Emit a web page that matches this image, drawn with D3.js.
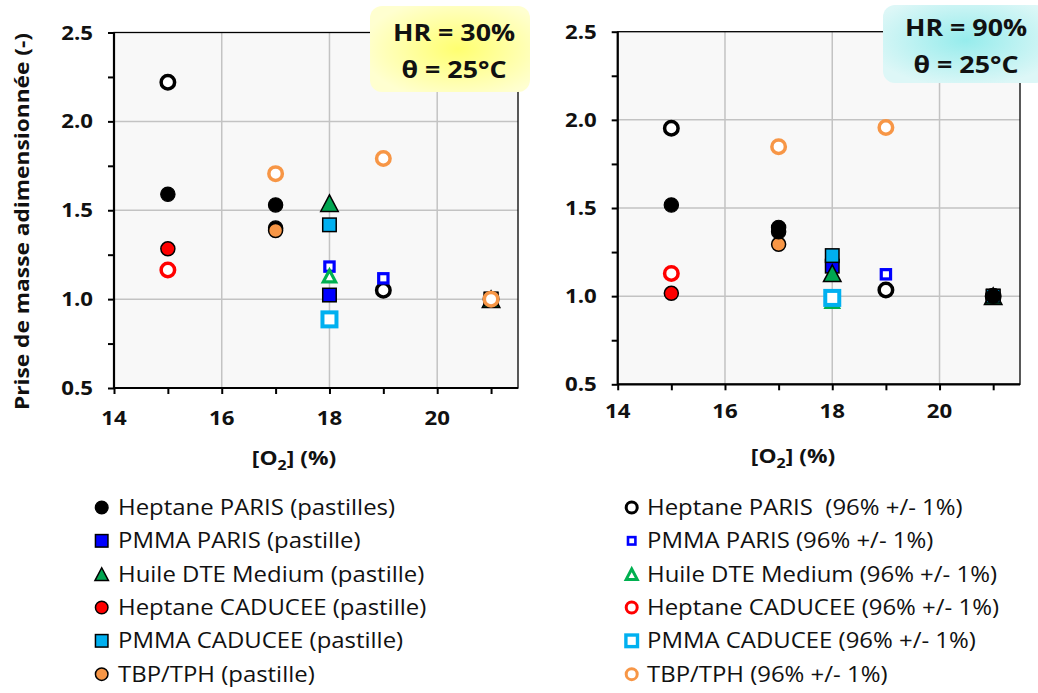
<!DOCTYPE html>
<html><head><meta charset="utf-8">
<script src="https://cdn.jsdelivr.net/npm/d3@7"></script>
<style>
html,body{margin:0;padding:0;background:#fff;}
svg{display:block;font-family:"Open Sans", Lato, sans-serif;}
</style></head>
<body>
<svg id="chart" width="1038" height="693"></svg>
<script>
// ---------- DATA ----------
const xTickValues = [14, 16, 18, 20];
const xMinorTicks = [15, 17, 19, 21];
const yTickValues = [0.5, 1.0, 1.5, 2.0, 2.5];
const yMinorTicks = [0.75, 1.25, 1.75, 2.25];
const xDomain = [14, 21.5];
const yDomain = [0.5, 2.5];

const seriesNames = [
  "Heptane PARIS (pastilles)", "PMMA PARIS (pastille)", "Huile DTE Medium (pastille)",
  "Heptane CADUCEE (pastille)", "PMMA CADUCEE (pastille)", "TBP/TPH (pastille)",
  "Heptane PARIS  (96% +/- 1%)", "PMMA PARIS (96% +/- 1%)", "Huile DTE Medium (96% +/- 1%)",
  "Heptane CADUCEE (96% +/- 1%)", "PMMA CADUCEE (96% +/- 1%)", "TBP/TPH (96% +/- 1%)"
];
const seriesKeys = ["hpF","ppF","huF","hcF","pcF","tbF","hpO","ppO","huO","hcO","pcO","tbO"];

// HR = 30 %
const hr30_hpF = [[15,1.59],[17,1.53],[17,1.40],[21,1.0]];
const hr30_ppF = [[18,1.023],[21,1.0]];
const hr30_huF = [[18,1.54],[21,1.0]];
const hr30_hcF = [[15,1.283]];
const hr30_pcF = [[18,1.418],[21,1.0]];
const hr30_tbF = [[17,1.386]];
const hr30_hpO = [[15,2.22],[19,1.05],[21,1.0]];
const hr30_ppO = [[18,1.183],[19,1.117],[21,1.0]];
const hr30_huO = [[18,1.13]];
const hr30_hcO = [[15,1.164]];
const hr30_pcO = [[18,0.886]];
const hr30_tbO = [[17,1.706],[19,1.791],[21,1.0]];

// HR = 90 %
const hr90_hpF = [[15,1.517],[17,1.39],[17,1.365],[21,1.0]];
const hr90_ppF = [[18,1.17],[21,1.0]];
const hr90_huF = [[18,1.13],[21,1.0]];
const hr90_hcF = [[15,1.016]];
const hr90_pcF = [[18,1.23],[21,1.0]];
const hr90_tbF = [[17,1.294]];
const hr90_hpO = [[15,1.952],[19,1.035],[21,1.0]];
const hr90_ppO = [[19,1.124],[21,1.0]];
const hr90_huO = [[18,0.97]];
const hr90_hcO = [[15,1.129]];
const hr90_pcO = [[18,0.99]];
const hr90_tbO = [[17,1.848],[19,1.957]];

const panelLabels = [["HR = 30%","θ = 25°C"],["HR = 90%","θ = 25°C"]];

// ---------- STYLES ----------
const SX = 1.14; // horizontal glyph stretch to match the reference typeface proportions
const styles = {
  hpF:{shape:"circle",size:15.5,fill:"#000000",stroke:"#000000",sw:1.2, lsize:14},
  ppF:{shape:"square",size:15,fill:"#0000FF",stroke:"#000000",sw:1.5, lsize:14},
  huF:{shape:"triangle",size:19,fill:"#00A651",stroke:"#000000",sw:1.5, lsize:15},
  hcF:{shape:"circle",size:15.5,fill:"#FF0000",stroke:"#000000",sw:1.5, lsize:14},
  pcF:{shape:"square",size:15,fill:"#00B0F0",stroke:"#000000",sw:1.5, lsize:14},
  tbF:{shape:"circle",size:15.5,fill:"#F79646",stroke:"#000000",sw:1.5, lsize:14},
  hpO:{shape:"circle",size:17,fill:"#FFFFFF",stroke:"#000000",sw:3.5, lsize:14, lsw:3},
  ppO:{shape:"square",size:12.5,fill:"#FFFFFF",stroke:"#0000FF",sw:3.2, lsize:10, lsw:2.6},
  huO:{shape:"triangle",size:15.5,fill:"#FFFFFF",stroke:"#00B050",sw:3.2, lsize:14, lsw:3},
  hcO:{shape:"circle",size:17,fill:"#FFFFFF",stroke:"#FF0000",sw:3.5, lsize:14, lsw:3},
  pcO:{shape:"square",size:18,fill:"#FFFFFF",stroke:"#00B0F0",sw:4, lsize:15, lsw:3.4},
  tbO:{shape:"circle",size:17,fill:"#FFFFFF",stroke:"#F79646",sw:3.5, lsize:14, lsw:3}
};

const panels = [
  { box:{x0:114, x1:518, y0:32.5, y1:388}, xlabBase:37, titleY:465, titleX:294,
    badge:{x:370,y:6,w:160,h:86,c0:"#FFFF70",c1:"#FFFFD0",cx:0.55,cy:0.5, tx:454, b1:41, b2:78},
    data:{hpF:hr30_hpF,ppF:hr30_ppF,huF:hr30_huF,hcF:hr30_hcF,pcF:hr30_pcF,tbF:hr30_tbF,
          hpO:hr30_hpO,ppO:hr30_ppO,huO:hr30_huO,hcO:hr30_hcO,pcO:hr30_pcO,tbO:hr30_tbO},
    order:["hpF","hpO","ppF","ppO","huO","huF","hcF","hcO","pcF","pcO","tbF","tbO"],
    labels:panelLabels[0] },
  { box:{x0:617.7, x1:1020, y0:31.7, y1:384.3}, xlabBase:34, titleY:463, titleX:793,
    badge:{x:883,y:5,w:165,h:78,c0:"#96ECEC",c1:"#DDF7F7",cx:0.5,cy:0.45, tx:966, b1:36, b2:72.5},
    data:{hpF:hr90_hpF,ppF:hr90_ppF,huF:hr90_huF,hcF:hr90_hcF,pcF:hr90_pcF,tbF:hr90_tbF,
          hpO:hr90_hpO,ppO:hr90_ppO,huO:hr90_huO,hcO:hr90_hcO,pcO:hr90_pcO,tbO:hr90_tbO},
    order:["hpO","ppF","ppO","huO","huF","hcF","hcO","pcO","tbF","tbO","pcF","hpF"],
    labels:panelLabels[1] }
];

const svg = d3.select("#chart");
const defs = svg.append("defs");

// text helper with horizontal stretch
function txt(parent, x, y, str, size, opts = {}) {
  const t = parent.append("text")
    .attr("transform", `translate(${x},${y}) scale(${SX},1)`)
    .attr("font-size", size).attr("fill", "#111")
    .attr("text-anchor", opts.anchor || "start");
  if (opts.bold) t.attr("font-weight", "bold");
  if (opts.dy) t.attr("dy", opts.dy);
  if (str !== null) t.text(str);
  return t;
}

function marker(g, st, size, sw){
  const s = size - sw;
  let el;
  if (st.shape === "circle") {
    el = g.append("circle").attr("r", s/2);
  } else if (st.shape === "square") {
    el = g.append("rect").attr("x", -s/2).attr("y", -s/2).attr("width", s).attr("height", s);
  } else {
    const h = s * 0.95, w = s;
    el = g.append("path").attr("d", `M0,${-h/2}L${w/2},${h/2}L${-w/2},${h/2}Z`).attr("stroke-linejoin","miter");
  }
  el.attr("fill", st.fill).attr("stroke", st.stroke).attr("stroke-width", sw);
  return el;
}

panels.forEach((p, pi) => {
  const b = p.box;
  const x = d3.scaleLinear().domain(xDomain).range([b.x0, b.x1]);
  const y = d3.scaleLinear().domain(yDomain).range([b.y1, b.y0]);
  const g = svg.append("g");

  g.append("rect").attr("x", b.x0).attr("y", b.y0).attr("width", b.x1-b.x0).attr("height", b.y1-b.y0)
    .attr("fill", "#F8F8F8");

  g.append("g").selectAll("line").data(xTickValues.filter(v => v > xDomain[0]))
    .join("line").attr("x1", d => x(d)).attr("x2", d => x(d)).attr("y1", b.y0).attr("y2", b.y1)
    .attr("stroke", "#C3C3C3").attr("stroke-width", 1.5);
  g.append("g").selectAll("line").data(yTickValues.filter(v => v > yDomain[0] && v < yDomain[1]))
    .join("line").attr("y1", d => y(d)).attr("y2", d => y(d)).attr("x1", b.x0).attr("x2", b.x1)
    .attr("stroke", "#C3C3C3").attr("stroke-width", 1.5);

  g.append("rect").attr("x", b.x0).attr("y", b.y0).attr("width", b.x1-b.x0).attr("height", b.y1-b.y0)
    .attr("fill", "none").attr("stroke", "#000").attr("stroke-width", 1.3);

  const xAxis = d3.axisBottom(x).tickValues(xTickValues.concat(xMinorTicks)).tickSize(6).tickFormat("");
  const xa = g.append("g").attr("transform", `translate(0,${b.y1})`).call(xAxis);
  xa.select(".domain").attr("stroke-width", 2.2).attr("d", `M${b.x0},0H${b.x1}`);
  xa.selectAll(".tick line").attr("stroke-width", 2);
  const yAxis = d3.axisLeft(y).tickValues(yTickValues.concat(yMinorTicks)).tickSize(6).tickFormat("");
  const ya = g.append("g").attr("transform", `translate(${b.x0},0)`).call(yAxis);
  ya.select(".domain").attr("stroke-width", 2.2).attr("d", `M0,${b.y0}V${b.y1}`);
  ya.selectAll(".tick line").attr("stroke-width", 2);

  xTickValues.forEach(v => txt(g, x(v), b.y1 + p.xlabBase, String(v), 19.5, {bold:true, anchor:"middle"}));
  yTickValues.forEach(v => txt(g, b.x0 - 21, y(v), v.toFixed(1), 19.5, {bold:true, anchor:"end", dy:"0.36em"}));

  const t = txt(g, p.titleX, p.titleY, null, 20, {bold:true, anchor:"middle"});
  t.append("tspan").text("[O");
  t.append("tspan").attr("font-size", 14).attr("dy", 5).text("2");
  t.append("tspan").attr("dy", -5).text("] (%)");

  p.order.forEach(k => {
    const st = styles[k];
    p.data[k].forEach(d => {
      const mg = g.append("g").attr("transform", `translate(${x(d[0])},${y(d[1])})`);
      marker(mg, st, st.size, st.sw);
    });
  });

  const bd = p.badge;
  const gid = "grad" + pi;
  const grad = defs.append("radialGradient").attr("id", gid)
    .attr("cx", bd.cx).attr("cy", bd.cy).attr("r", 0.6);
  grad.append("stop").attr("offset", "0%").attr("stop-color", bd.c0);
  grad.append("stop").attr("offset", "100%").attr("stop-color", bd.c1);
  svg.append("rect").attr("x", bd.x).attr("y", bd.y).attr("width", bd.w).attr("height", bd.h)
    .attr("rx", 12).attr("fill", `url(#${gid})`);
  txt(svg, bd.tx, bd.b1, p.labels[0], 23.5, {bold:true, anchor:"middle"});
  txt(svg, bd.tx, bd.b2, p.labels[1], 23.5, {bold:true, anchor:"middle"});
});

svg.append("text").attr("transform", "translate(29,221.5) rotate(-90)").attr("text-anchor", "middle")
  .attr("font-weight", "bold").attr("font-size", 20).attr("fill", "#111")
  .attr("textLength", 377).attr("lengthAdjust", "spacingAndGlyphs")
  .text("Prise de masse adimensionnée (-)");

const legendCols = [{mx:101.7, tx:118}, {mx:631.7, tx:647}];
seriesKeys.forEach((k, i) => {
  const col = legendCols[Math.floor(i / 6)];
  const row = i % 6;
  const cy = 507.5 + row * 33.33;
  const st = styles[k];
  const mg = svg.append("g").attr("transform", `translate(${col.mx},${cy})`);
  marker(mg, st, st.lsize, st.lsw || (st.sw));
  txt(svg, col.tx, cy + 7.5, seriesNames[i], 21).style("white-space", "pre");
});
</script>
</body></html>
